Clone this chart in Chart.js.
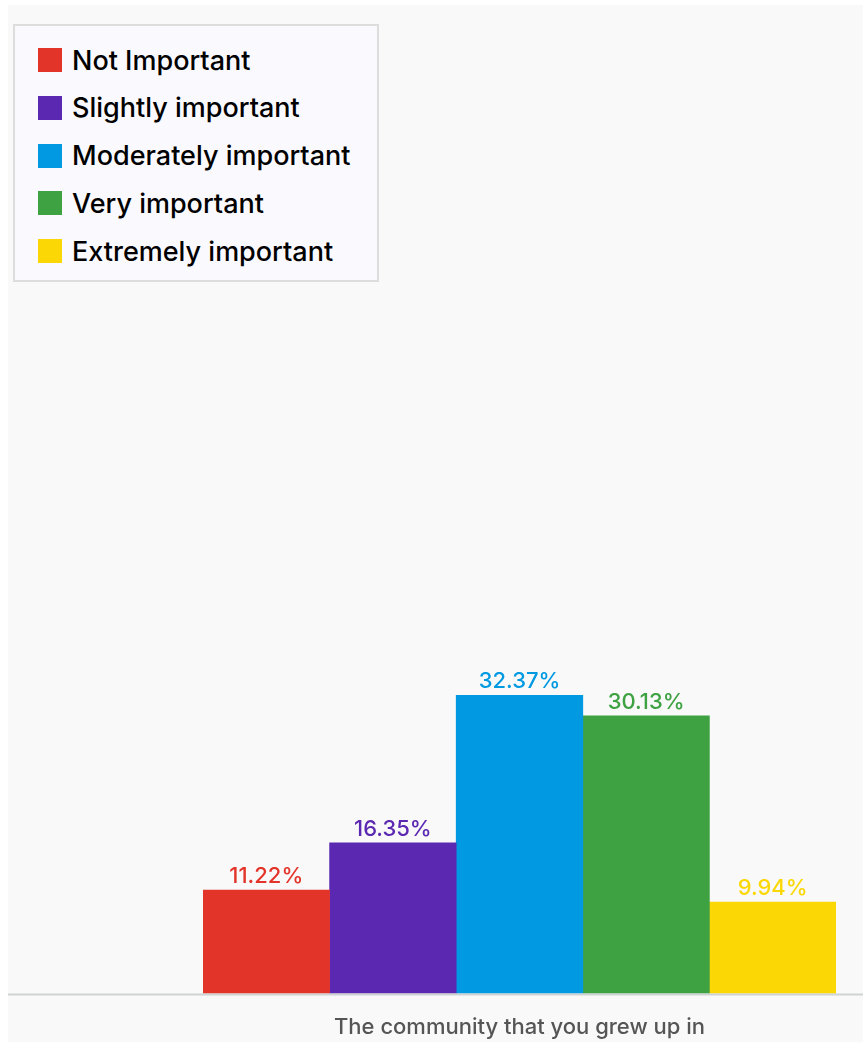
<!DOCTYPE html>
<html>
<head>
<meta charset="utf-8">
<script src="https://cdn.jsdelivr.net/npm/chart.js@4/dist/chart.umd.min.js"></script>
<style>
  body { margin: 0; background: #fff; font-family: Inter, "Open Sans", sans-serif; }
  #panel { position: absolute; left: 8px; top: 5px; width: 855px; height: 1037px; background: #f9f9f9; overflow: hidden; }
  #panel canvas { position: absolute; left: 0; top: 0; }
  #legend {
    position: absolute; left: 5px; top: 19px; width: 362px; height: 254px;
    background: #fafafe; border: 2px solid #dddddd;
  }
  .item { position: absolute; left: 23px; height: 24px; display: flex; align-items: center; }
  .swatch { width: 24px; height: 24px; margin-right: 10px; }
  .item span { font-size: 27px; font-weight: 500; color: #000; white-space: nowrap; }
</style>
</head>
<body>
<div id="panel">
  <canvas id="chart" width="855" height="1037"></canvas>
  <div id="legend"></div>
</div>
<script>
const categories = ["The community that you grew up in"];
const seriesNames = ["Not Important", "Slightly important", "Moderately important", "Very important", "Extremely important"];
const seriesValues = [11.22, 16.35, 32.37, 30.13, 9.94];
const seriesColors = ["#e3342a", "#5b29b1", "#0099e2", "#3ea142", "#fbd805"];

// legend rows
const legend = document.getElementById("legend");
seriesNames.forEach((name, i) => {
    const row = document.createElement("div");
    row.className = "item";
    row.style.top = (22 + i * 47.8) + "px";
    row.innerHTML = `<div class="swatch" style="background:${seriesColors[i]}"></div><span>${name}</span>`;
    legend.appendChild(row);
});

// value text over each bar, in the bar's colour
const valueLabels = {
    id: "valueLabels",
    afterDatasetsDraw(chart) {
        const ctx = chart.ctx;
        ctx.save();
        ctx.font = "500 22px Inter, sans-serif";
        ctx.textAlign = "center";
        ctx.textBaseline = "alphabetic";
        chart.data.datasets.forEach((ds, i) => {
            const bar = chart.getDatasetMeta(i).data[0];
            ctx.fillStyle = ds.backgroundColor;
            ctx.fillText(ds.data[0].toFixed(2) + "%", bar.x, bar.y - 7);
        });
        ctx.restore();
    }
};

// baseline across the whole panel
const baseLine = {
    id: "baseLine",
    afterDatasetsDraw(chart) {
        const ctx = chart.ctx;
        const y = chart.scales.y.getPixelForValue(0);
        ctx.save();
        ctx.strokeStyle = "#cfd3d3";
        ctx.lineWidth = 2;
        ctx.beginPath();
        ctx.moveTo(0, y + 1);
        ctx.lineTo(chart.width, y + 1);
        ctx.stroke();
        ctx.restore();
    }
};

new Chart(document.getElementById("chart").getContext("2d"), {
    type: "bar",
    data: {
        labels: categories,
        datasets: seriesNames.map((name, i) => ({
            label: name,
            data: [seriesValues[i]],
            backgroundColor: seriesColors[i],
            categoryPercentage: 1,
            barPercentage: 1
        }))
    },
    options: {
        responsive: false,
        animation: false,
        layout: { padding: { left: 195, right: 27, top: 67, bottom: -20 } },
        plugins: { legend: { display: false }, tooltip: { enabled: false } },
        scales: {
            y: { display: false, min: 0, max: 100 },
            x: {
                grid: { display: false, drawTicks: false },
                border: { display: false },
                ticks: { color: "#555", font: { family: "Inter", size: 22, weight: 500 }, padding: 21 }
            }
        }
    },
    plugins: [valueLabels, baseLine]
});
</script>
</body>
</html>
